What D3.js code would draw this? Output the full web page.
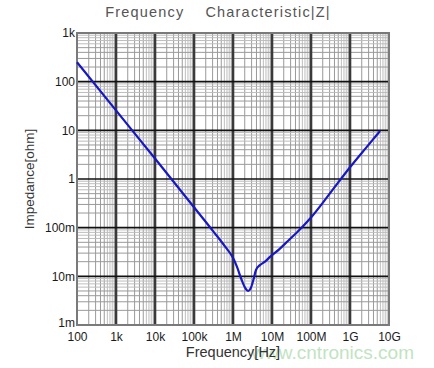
<!DOCTYPE html>
<html><head><meta charset="utf-8">
<script src="https://cdn.jsdelivr.net/npm/d3@7"></script>
<style>body{margin:0;background:#fff}svg{display:block}text{font-family:"Liberation Sans",Arial,sans-serif}</style>
</head><body><div id="chart"></div>
<script>
const freqTicks = [1e2,1e3,1e4,1e5,1e6,1e7,1e8,1e9,1e10];
const freqLabels = ["100","1k","10k","100k","1M","10M","100M","1G","10G"];
const zTicks = [1e-3,1e-2,1e-1,1,10,100,1000];
const zLabels = ["1m","10m","100m","1","10","100","1k"];
const freqHz = [100,1e3,1e4,1e5,3.16e5,6.3e5,1e6,1.26e6,1.66e6,2.14e6,2.45e6,2.82e6,3.31e6,3.89e6,4.9e6,6.6e6,8.9e6,1.55e7,2.6e7,5.25e7,1e8,3.16e8,1e9,2.7e9,5.9e9];
const impedance = [251,25.7,2.63,0.263,0.083,0.0407,0.024,0.0158,0.0085,0.0055,0.0050,0.0056,0.0083,0.0135,0.017,0.020,0.0251,0.0363,0.054,0.093,0.162,0.525,1.74,4.57,9.7];

const W=434,H=368;
const m={l:77,r:45,t:33,b:43};
const svg=d3.select("#chart").append("svg").attr("width",W).attr("height",H);
const x=d3.scaleLog().domain([1e2,1e10]).range([m.l,W-m.r]);
const y=d3.scaleLog().domain([1e-3,1e3]).range([H-m.b,m.t]);

const g=svg.append("g");
const mult=d=>Math.round(d/Math.pow(10,Math.floor(Math.log10(d)+1e-9)));
const minorX=[],minorY=[];
for(let e=2;e<10;e++)for(let k=2;k<=9;k++)minorX.push(k*Math.pow(10,e));
for(let e=-3;e<3;e++)for(let k=2;k<=9;k++)minorY.push(k*Math.pow(10,e));
g.selectAll(".mx").data(minorX).enter().append("line")
 .attr("x1",d=>x(d)).attr("x2",d=>x(d)).attr("y1",m.t).attr("y2",H-m.b)
 .attr("stroke",d=>mult(d)>=6?"#bdbdbd":"#9a9a9a").attr("stroke-width",1);
g.selectAll(".my").data(minorY).enter().append("line")
 .attr("y1",d=>y(d)).attr("y2",d=>y(d)).attr("x1",m.l).attr("x2",W-m.r)
 .attr("stroke",d=>mult(d)>=6?"#bdbdbd":"#9a9a9a").attr("stroke-width",1);
g.selectAll(".Mx").data(freqTicks.slice(1,-1)).enter().append("line")
 .attr("x1",d=>x(d)).attr("x2",d=>x(d)).attr("y1",m.t).attr("y2",H-m.b)
 .attr("stroke","#3a3a3a").attr("stroke-width",2.6);
g.selectAll(".My").data(zTicks.slice(1,-1)).enter().append("line")
 .attr("y1",d=>y(d)).attr("y2",d=>y(d)).attr("x1",m.l).attr("x2",W-m.r)
 .attr("stroke","#111").attr("stroke-width",1.6);
g.append("rect").attr("x",m.l).attr("y",m.t).attr("width",W-m.r-m.l).attr("height",H-m.b-m.t)
 .attr("fill","none").attr("stroke","#7a7a7a").attr("stroke-width",2);

const xAxis=d3.axisBottom(x).tickValues(freqTicks).tickFormat((d,i)=>freqLabels[i]).tickSize(0).tickPadding(7);
const xa=svg.append("g").attr("transform",`translate(0,${H-m.b})`).call(xAxis);
xa.select(".domain").remove();
xa.selectAll("text").attr("font-size",12).attr("fill","#1a1a1a").attr("font-family","Liberation Sans, Arial, sans-serif");
const yAxis=d3.axisLeft(y).tickValues(zTicks).tickFormat((d,i)=>zLabels[i]).tickSize(0).tickPadding(2);
const ya=svg.append("g").attr("transform",`translate(${m.l},0)`).call(yAxis);
ya.select(".domain").remove();
ya.selectAll("text").attr("font-size",12).attr("fill","#1a1a1a").attr("font-family","Liberation Sans, Arial, sans-serif");
ya.selectAll(".tick").filter(d=>d===1e-3).select("text").attr("dy","0.1em");

const line=d3.line().x((d,i)=>x(freqHz[i])).y((d,i)=>y(impedance[i])).curve(d3.curveMonotoneX);
svg.append("path").datum(impedance).attr("d",line).attr("fill","none").attr("stroke","#1717c4").attr("stroke-width",2.2);

svg.append("text").attr("x",218).attr("y",17).attr("text-anchor","middle").attr("font-size",14.5).attr("fill","#555").attr("letter-spacing",1.2)
 .attr("xml:space","preserve").text("Frequency    Characteristic|Z|");
// watermark (drawn beneath the axis title)
svg.append("text").attr("x",414).attr("y",359).attr("text-anchor","end").attr("font-size",19).attr("fill","#a8d8a8").attr("opacity",0.7).text("www.cntronics.com");
svg.append("text").attr("x",233).attr("y",357).attr("text-anchor","middle").attr("font-size",14.5).attr("fill","#333").text("Frequency[Hz]");
svg.append("text").attr("transform","translate(34,179) rotate(-90)").attr("text-anchor","middle").attr("font-size",13.5).attr("fill","#333").text("Impedance[ohm]");
</script></body></html>
